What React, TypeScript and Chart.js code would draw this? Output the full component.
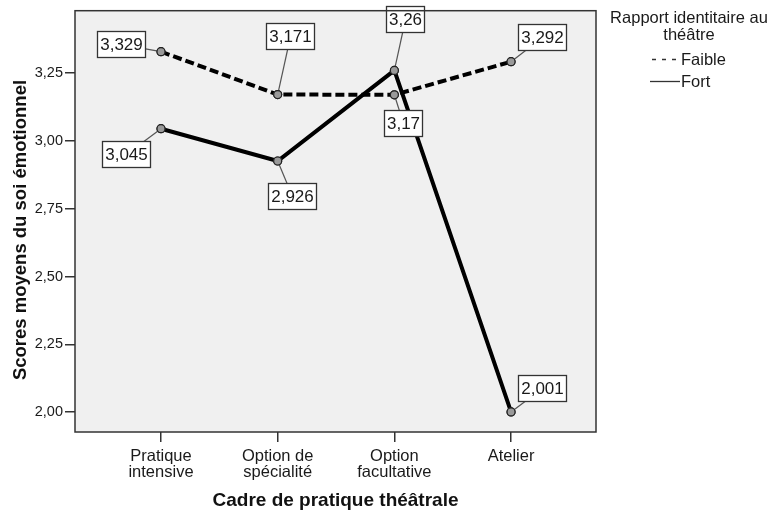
import React, { useEffect, useRef } from "react";
import { Chart, registerables } from "chart.js";

Chart.register(...registerables);

const categories: string[][] = [
  ["Pratique", "intensive"],
  ["Option de", "spécialité"],
  ["Option", "facultative"],
  ["Atelier"],
];
const faibleValues = [3.329, 3.171, 3.17, 3.292];
const fortValues = [3.045, 2.926, 3.26, 2.001];
const faibleLabels = ["3,329", "3,171", "3,17", "3,292"];
const fortLabels = ["3,045", "2,926", "3,26", "2,001"];
const yTicks = [2.0, 2.25, 2.5, 2.75, 3.0, 3.25];
const seriesNames = ["Faible", "Fort"];
const legendTitle = ["Rapport identitaire au", "théâtre"];
const xTitle = "Cadre de pratique théâtrale";
const yTitle = "Scores moyens du soi émotionnel";

// label box centre offsets (pixels) relative to each point
const faibleOffsets = [[-40, -8], [12, -59], [9, 28], [31, -25]];
const fortOffsets = [[-35, 25], [14, 35], [11, -51], [31, -24]];

const FONT = "'Liberation Sans', Arial, sans-serif";

const labelPlugin = {
  id: "calloutLabels",
  afterDatasetsDraw(chart: any) {
    const ctx = chart.ctx;
    ctx.save();
    ctx.font = `17px ${FONT}`;
    const sets = [
      { labels: faibleLabels, offs: faibleOffsets },
      { labels: fortLabels, offs: fortOffsets },
    ];
    sets.forEach((s, di) => {
      const meta = chart.getDatasetMeta(di);
      meta.data.forEach((pt: any, i: number) => {
        const px = pt.x, py = pt.y;
        const cx = px + s.offs[i][0], cy = py + s.offs[i][1];
        const txt = s.labels[i];
        const w = Math.round(ctx.measureText(txt).width + 5);
        const h = 26;
        const x0 = Math.round(cx - w / 2) + 0.5, y0 = Math.round(cy - h / 2) + 0.5;
        const bx = x0 + w / 2, by = y0 + h / 2;
        const dx = px - bx, dy = py - by;
        const tx = dx !== 0 ? (w / 2) / Math.abs(dx) : Infinity;
        const ty = dy !== 0 ? (h / 2) / Math.abs(dy) : Infinity;
        const t = Math.min(tx, ty, 1);
        ctx.strokeStyle = "#555";
        ctx.lineWidth = 1.2;
        ctx.beginPath();
        ctx.moveTo(px, py);
        ctx.lineTo(bx + dx * t, by + dy * t);
        ctx.stroke();
        ctx.fillStyle = "#ffffff";
        ctx.fillRect(x0, y0, w, h);
        ctx.strokeStyle = "#333";
        ctx.lineWidth = 1.3;
        ctx.strokeRect(x0, y0, w, h);
        ctx.fillStyle = "#1a1a1a";
        ctx.textAlign = "center";
        ctx.textBaseline = "middle";
        ctx.fillText(txt, x0 + w / 2, y0 + h / 2 + 1);
      });
      meta.data.forEach((pt: any) => {
        ctx.beginPath();
        ctx.arc(pt.x, pt.y, 4, 0, Math.PI * 2);
        ctx.fillStyle = "#9a9a9a";
        ctx.fill();
        ctx.lineWidth = 1.2;
        ctx.strokeStyle = "#222";
        ctx.stroke();
      });
    });
    ctx.restore();
  },
};

const bgPlugin = {
  id: "plotBg",
  beforeDraw(chart: any) {
    const { ctx, chartArea: a } = chart;
    ctx.save();
    ctx.fillStyle = "#ffffff";
    ctx.fillRect(0, 0, chart.width, chart.height);
    ctx.fillStyle = "#f0f0f0";
    ctx.fillRect(a.left, a.top, a.right - a.left, a.bottom - a.top);
    ctx.restore();
  },
  afterDraw(chart: any) {
    const { ctx, chartArea: a } = chart;
    ctx.save();
    ctx.strokeStyle = "#333";
    ctx.lineWidth = 1.5;
    ctx.strokeRect(a.left, a.top, a.right - a.left, a.bottom - a.top);
    ctx.fillStyle = "#111";
    ctx.font = `bold 19px ${FONT}`;
    ctx.textAlign = "center";
    ctx.textBaseline = "middle";
    ctx.fillText(xTitle, (a.left + a.right) / 2, 501);
    ctx.save();
    ctx.translate(21, 230);
    ctx.rotate(-Math.PI / 2);
    ctx.font = `bold 18.5px ${FONT}`;
    ctx.fillText(yTitle, 0, 0);
    ctx.restore();
    ctx.fillStyle = "#1a1a1a";
    ctx.font = `16.5px ${FONT}`;
    ctx.fillText(legendTitle[0], 689, 18);
    ctx.fillText(legendTitle[1], 689, 35);
    ctx.textAlign = "left";
    ctx.strokeStyle = "#333";
    ctx.lineWidth = 1.3;
    ctx.setLineDash([4, 6]);
    ctx.beginPath();
    ctx.moveTo(652, 59.5);
    ctx.lineTo(678, 59.5);
    ctx.stroke();
    ctx.setLineDash([]);
    ctx.beginPath();
    ctx.moveTo(650, 81.5);
    ctx.lineTo(680, 81.5);
    ctx.stroke();
    ctx.fillText(seriesNames[0], 681, 60);
    ctx.fillText(seriesNames[1], 681, 82);
    ctx.restore();
  },
};

export default function App() {
  const ref = useRef<HTMLCanvasElement>(null);
  useEffect(() => {
    if (!ref.current) return;
    const mk = (vals: number[]) => vals.map((v, i) => ({ x: i, y: v }));
    const common = {
      borderColor: "#000",
      borderWidth: 4,
      pointRadius: 4,
      pointBackgroundColor: "#9a9a9a",
      pointBorderColor: "#222",
      pointBorderWidth: 1.2,
      tension: 0,
    };
    const chart = new Chart(ref.current, {
      type: "line",
      data: {
        datasets: [
          { label: seriesNames[0], data: mk(faibleValues), borderDash: [9, 4], ...common },
          { label: seriesNames[1], data: mk(fortValues), ...common },
        ],
      },
      options: {
        animation: false,
        responsive: false,
        layout: { padding: { top: 7, right: 173, left: 0, bottom: 0 } },
        plugins: { legend: { display: false }, tooltip: { enabled: false } },
        scales: {
          x: {
            type: "linear",
            min: -0.737,
            max: 3.728,
            afterBuildTicks: (s: any) => {
              s.ticks = categories.map((_, i) => ({ value: i }));
            },
            afterFit: (s: any) => {
              s.height = 81;
            },
            ticks: {
              autoSkip: false,
              maxRotation: 0,
              color: "#1a1a1a",
              font: { family: FONT, size: 16.5, lineHeight: 0.97 },
              padding: 6,
              callback: (v: any) => categories[v] ?? "",
            },
            grid: {
              drawOnChartArea: false,
              drawTicks: true,
              tickLength: 10,
              color: "#333",
              lineWidth: 1.5,
            },
            border: { display: false },
          },
          y: {
            type: "linear",
            min: 1.927,
            max: 3.48,
            afterBuildTicks: (s: any) => {
              s.ticks = yTicks.map((v) => ({ value: v }));
            },
            afterFit: (s: any) => {
              s.width = 75;
            },
            ticks: {
              color: "#1a1a1a",
              font: { family: FONT, size: 14.5 },
              padding: 2,
              callback: (v: any) => Number(v).toFixed(2).replace(".", ","),
            },
            grid: {
              drawOnChartArea: false,
              drawTicks: true,
              tickLength: 10,
              color: "#333",
              lineWidth: 1.5,
            },
            border: { display: false },
          },
        },
      },
      plugins: [bgPlugin, labelPlugin],
    } as any);
    return () => chart.destroy();
  }, []);
  return (
    <div style={{ position: "absolute", left: 0, top: 0, width: 769, height: 513, background: "#fff" }}>
      <canvas ref={ref} width={769} height={513} style={{ width: 769, height: 513, display: "block" }} />
    </div>
  );
}
